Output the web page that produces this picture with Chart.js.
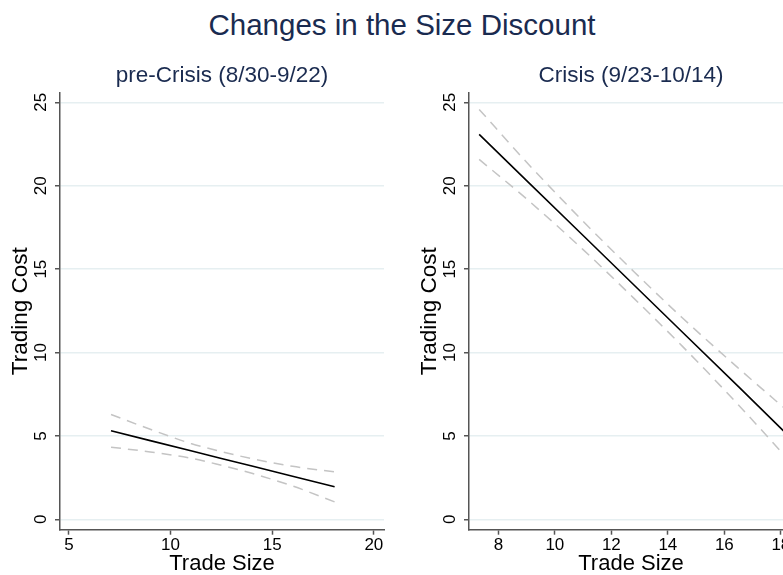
<!DOCTYPE html>
<html><head><meta charset="utf-8">
<script src="https://cdn.jsdelivr.net/npm/chart.js@4.4.1/dist/chart.umd.min.js"></script>
<style>
html,body{margin:0;padding:0;background:#fff;overflow:hidden;width:783px;height:575px;}
#wrap{position:relative;width:814px;height:575px;overflow:hidden;}
#title{position:absolute;left:0;top:8px;width:804px;text-align:center;font-family:"Liberation Sans",Arial,sans-serif;font-size:29.5px;line-height:34px;color:#1a2b50;white-space:nowrap;}
canvas{position:absolute;top:50px;}
#c1{left:0px}
#c2{left:409px}
</style></head><body>
<div id="wrap"><div id="title"></div>
<canvas id="c1" width="405" height="525"></canvas>
<canvas id="c2" width="405" height="525"></canvas></div>
<script>
// ---- data ----
const mainTitle = 'Changes in the Size Discount';
const preTitle = 'pre-Crisis (8/30-9/22)';
const crisisTitle = 'Crisis (9/23-10/14)';
const xAxisTitle = 'Trade Size';
const yAxisTitle = 'Trading Cost';
const yTicks = [0, 5, 10, 15, 20, 25];
const preXTicks = [5, 10, 15, 20];
const crisisXTicks = [8, 10, 12, 14, 16, 18];

const preSize  = [7.07, 9.0, 11.0, 12.5, 14.0, 16.0, 18.07];
const preFit   = [5.31, 4.72, 4.11, 3.65, 3.20, 2.59, 1.95];
const preUpper = [6.29, 5.40, 4.55, 4.06, 3.64, 3.18, 2.85];
const preLower = [4.33, 4.04, 3.67, 3.24, 2.76, 2.00, 1.05];

const crisisSize  = [7.32, 9.0, 11.0, 12.8, 14.5, 16.5, 18.3];
const crisisFit   = [23.08, 20.31, 17.02, 14.05, 11.25, 7.96, 4.96];
const crisisUpper = [24.58, 21.41, 17.87, 14.85, 12.10, 9.06, 6.41];
const crisisLower = [21.58, 19.21, 16.17, 13.25, 10.40, 6.86, 3.51];

document.getElementById('title').textContent = mainTitle;

const FAM = '"Liberation Sans", Arial, sans-serif';
const NAVY = '#1a2b50';
const AXIS = '#555555';

function pts(xs, ys) { return xs.map((x, i) => ({x: x, y: ys[i]})); }

function makeChart(id, title, xs, fit, up, lo, xMin, xMax, xTicks) {
  const ciStyle = {borderColor: '#c4c4c4', borderWidth: 1.5, borderDash: [10, 7],
    pointRadius: 0, showLine: true, fill: false, cubicInterpolationMode: 'monotone'};
  return new Chart(document.getElementById(id), {
    type: 'scatter',
    data: {datasets: [
      Object.assign({data: pts(xs, up)}, ciStyle),
      Object.assign({data: pts(xs, lo)}, ciStyle),
      {data: pts(xs, fit), borderColor: '#000', borderWidth: 1.6, pointRadius: 0, showLine: true, fill: false}
    ]},
    options: {
      responsive: false, animation: false, devicePixelRatio: 1,
      layout: {padding: {left: 0, right: 21, top: 0, bottom: 0}},
      plugins: {
        legend: {display: false}, tooltip: {enabled: false},
        title: {display: true, text: title, fullSize: false, color: NAVY,
          font: {family: FAM, size: 22.5, weight: 'normal'}, padding: {top: 12.4, bottom: 3.3}}
      },
      scales: {
        x: {type: 'linear', min: xMin, max: xMax,
          afterBuildTicks: s => { s.ticks = xTicks.map(v => ({value: v})); },
          afterFit: s => { s.height = 45.3; },
          ticks: {autoSkip: false, maxRotation: 0, color: '#000', padding: 0,
            font: {family: FAM, size: 17}},
          grid: {drawOnChartArea: false, tickLength: 5, tickColor: AXIS, tickWidth: 1.5},
          border: {color: AXIS, width: 1.5},
          title: {display: true, text: xAxisTitle, color: '#000', padding: 0,
            font: {family: FAM, size: 22, lineHeight: 1}}
        },
        y: {type: 'linear', min: -0.62, max: 25.58,
          afterBuildTicks: s => { s.ticks = yTicks.map(v => ({value: v})); },
          afterFit: s => { s.width = 60; },
          ticks: {minRotation: 90, maxRotation: 90, crossAlign: 'center', color: '#000', padding: 4,
            font: {family: FAM, size: 17}},
          grid: {color: '#e6eff1', lineWidth: 1.5, tickLength: 5, tickColor: AXIS, tickWidth: 1.5},
          border: {color: AXIS, width: 1.5},
          title: {display: true, text: yAxisTitle, color: '#000', padding: {top: 7, bottom: 0},
            font: {family: FAM, size: 22.5, lineHeight: 1.2}}
        }
      }
    }
  });
}

makeChart('c1', preTitle, preSize, preFit, preUpper, preLower, 4.56, 20.5, preXTicks);
makeChart('c2', crisisTitle, crisisSize, crisisFit, crisisUpper, crisisLower, 6.96, 18.43, crisisXTicks);
</script>
</body></html>
